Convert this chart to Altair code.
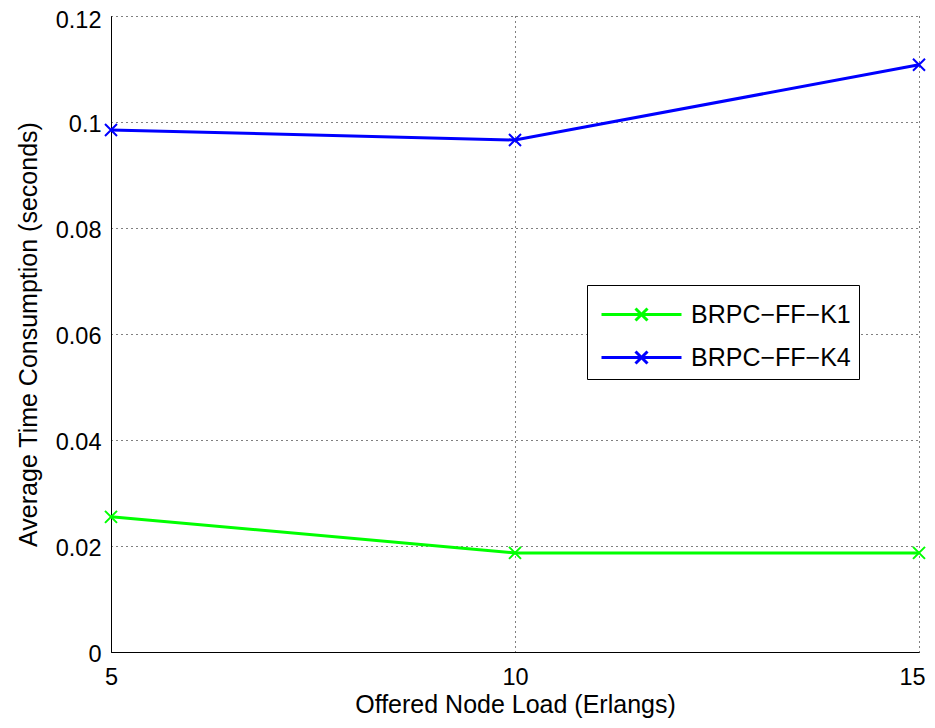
import altair as alt
import pandas as pd

loads = [5, 10, 15]
k1_values = [0.0255, 0.0187, 0.0187]
k4_values = [0.0985, 0.0966, 0.1108]
series_names = ["BRPC\u2212FF\u2212K1", "BRPC\u2212FF\u2212K4"]
series_colors = ["#00ff00", "#0000ff"]
y_ticks = [0, 0.02, 0.04, 0.06, 0.08, 0.1, 0.12]
x_ticks = [5, 10, 15]

rows = []
for x, v in zip(loads, k1_values):
    rows.append({"load": x, "time": v, "series": series_names[0]})
for x, v in zip(loads, k4_values):
    rows.append({"load": x, "time": v, "series": series_names[1]})
df = pd.DataFrame(rows)

FONT = "Liberation Sans"

x_enc = alt.X("load:Q", scale=alt.Scale(domain=[5, 15], nice=False),
              axis=alt.Axis(values=x_ticks, title="Offered Node Load (Erlangs)", format="d",
                            labelFlush=False,
                            labelOffset={"expr": "datum.value == 15 ? -7 : 0"}))
y_enc = alt.Y("time:Q", scale=alt.Scale(domain=[0, 0.12], nice=False),
              axis=alt.Axis(values=y_ticks, title="Average Time Consumption (seconds)",
                            labelOffset={"expr": "datum.value >= 0.12 ? 4 : 2"},
                            labelExpr="datum.value == 0 ? '0' : format(datum.value, '.2~f')"))
color_enc = alt.Color("series:N", scale=alt.Scale(domain=series_names, range=series_colors),
                      legend=alt.Legend(title=None, orient="none", legendX=476, legendY=269,
                                        fillColor="white", strokeColor="black", padding=8,
                                        symbolType="M-2,0H2M-0.3,-0.3L0.3,0.3M-0.3,0.3L0.3,-0.3",
                                        symbolSize=1600, symbolStrokeWidth=3, symbolOffset=25,
                                        labelFontSize=25, labelFont=FONT, labelColor="black",
                                        labelOffset=28, rowPadding=8, offset=0))

lines = alt.Chart(df).mark_line(strokeWidth=3).encode(x=x_enc, y=y_enc, color=color_enc)
points = alt.Chart(df).mark_point(
    shape="M-1,-1L1,1M-1,1L1,-1", size=144, filled=False, strokeWidth=2, opacity=1
).encode(x=x_enc, y=y_enc,
         color=alt.Color("series:N", scale=alt.Scale(domain=series_names, range=series_colors), legend=None))

chart = alt.layer(lines, points).properties(
    width=808, height=636,
    autosize=alt.AutoSizeParams(type="none"),
    padding={"left": 103, "top": 8, "right": 8, "bottom": 68},
).configure_view(stroke=None).configure_axis(
    grid=True, gridColor="black", gridDash=[1, 4], gridOpacity=1, gridWidth=1,
    domainColor="black", domainWidth=1, ticks=False,
    labelFont=FONT, labelFontSize=23.5, labelColor="black", labelPadding=10,
    titleFont=FONT, titleFontSize=25, titleColor="black", titleFontWeight="normal",
).configure_axisX(labelPadding=13, titlePadding=4).configure_axisY(titlePadding=14)

chart.save("out.html", embed_options={"renderer": "svg", "actions": False})
